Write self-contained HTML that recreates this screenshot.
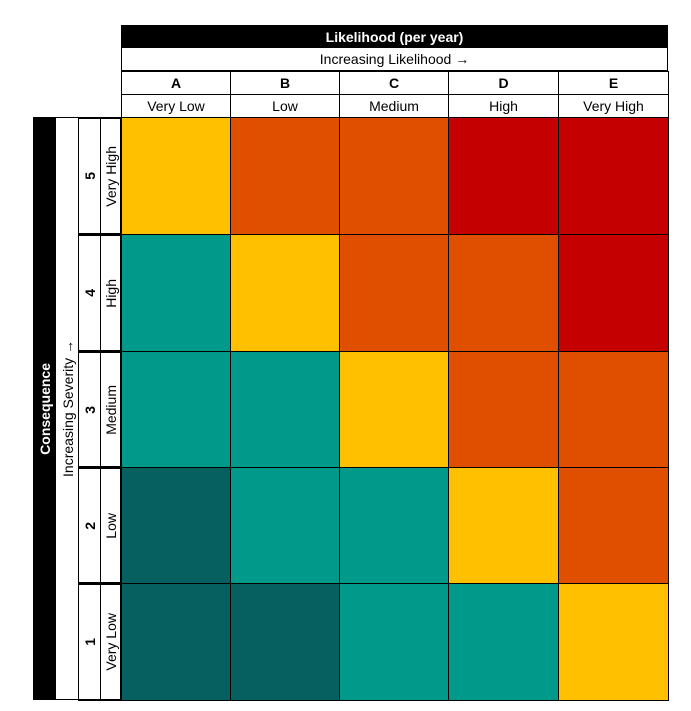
<!DOCTYPE html>
<html><head><meta charset="utf-8"><style>
body{margin:0;width:691px;height:711px;background:#fff;position:relative;font-family:"Liberation Sans",sans-serif;overflow:hidden}
div{position:absolute;box-sizing:border-box}
.c{display:flex;align-items:center;justify-content:center;color:#000;font-size:14px}
.v{writing-mode:vertical-rl;transform:rotate(180deg)}
</style></head><body>
<!-- top header -->
<div class="c" style="left:121px;top:25px;width:547px;height:23px;background:#000;color:#fff;font-weight:bold;font-size:14px">Likelihood (per year)</div>
<div class="c" style="left:121px;top:48px;width:547px;height:23px;border:1px solid #000;border-top:none">Increasing Likelihood →</div>
<div id="cols"></div>
<!-- left -->
<div class="c" style="left:33px;top:117px;width:23px;height:583px;background:#000"><span class="v" style="color:#fff;font-weight:bold;font-size:14px">Consequence</span></div>
<div class="c" style="left:56px;top:117px;width:23px;height:583px;border-top:1px solid #000;border-bottom:1px solid #000"><span class="v">Increasing Severity →</span></div>
<div id="rows"></div>
<div id="grid"></div>
<script>
var xs=[121,230,339,448,558,668],ys=[117,234,351,467,583,700];
var L=["A","B","C","D","E"],N=["Very Low","Low","Medium","High","Very High"];
var h="";
for(var i=0;i<5;i++){
h+='<div class="c" style="left:'+xs[i]+'px;top:71px;width:'+(xs[i+1]-xs[i]+1)+'px;height:24px;border:1px solid #000;font-weight:bold">'+L[i]+'</div>';
h+='<div class="c" style="left:'+xs[i]+'px;top:94px;width:'+(xs[i+1]-xs[i]+1)+'px;height:24px;border:1px solid #000">'+N[i]+'</div>';
}
document.getElementById("cols").outerHTML=h;
var Y="#FFC000",O="#E04F00",R="#C40000",T="#00998A",D="#05605F";
var M=[[Y,O,O,R,R],[T,Y,O,O,R],[T,T,Y,O,O],[D,T,T,Y,O],[D,D,T,T,Y]];
var RL=["Very High","High","Medium","Low","Very Low"];
h="";
for(var r=0;r<5;r++){
var y=ys[r],hh=ys[r+1]-y+1;
h+='<div class="c" style="left:78px;top:'+y+'px;width:23px;height:'+hh+'px;border:1px solid #000;border-width:2px 1px"><span class="v" style="font-weight:bold">'+(5-r)+'</span></div>';
h+='<div class="c" style="left:100px;top:'+y+'px;width:22px;height:'+hh+'px;border:1px solid #000;border-width:2px 1px"><span class="v">'+RL[r]+'</span></div>';
for(var c=0;c<5;c++){
h+='<div style="left:'+xs[c]+'px;top:'+y+'px;width:'+(xs[c+1]-xs[c]+1)+'px;height:'+hh+'px;background:'+M[r][c]+';border:1px solid #000"></div>';
}}
h+='<div style="left:120px;top:117px;width:2px;height:584px;background:#000"></div>';
document.getElementById("rows").outerHTML=h;
</script>
</body></html>
